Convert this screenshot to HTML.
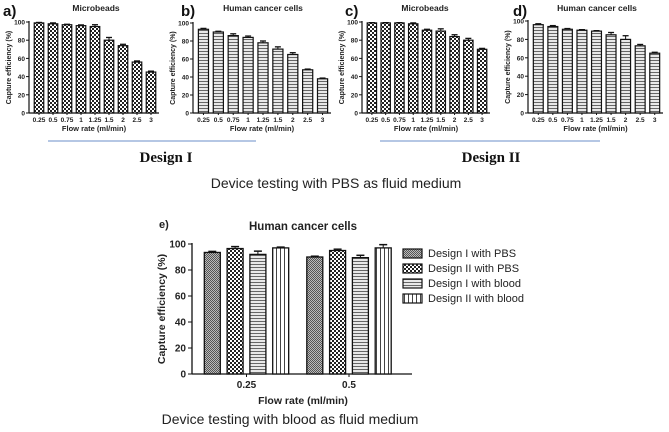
<!DOCTYPE html>
<html><head><meta charset="utf-8"><style>
body{margin:0;background:#fff;}
svg{display:block;font-family:"Liberation Sans",Arial,sans-serif;}
</style></head><body>
<svg id="s" width="669" height="432" viewBox="0 0 669 432">
<defs>
<pattern id="chk" width="4" height="4" patternUnits="userSpaceOnUse"><rect width="4" height="4" fill="#fff"/><rect width="2" height="2" fill="#222"/><rect x="2" y="2" width="2" height="2" fill="#222"/></pattern>
<pattern id="hl" width="4" height="3" patternUnits="userSpaceOnUse"><rect width="4" height="3" fill="#e8e8e8"/><rect y="0" width="4" height="1" fill="#666"/></pattern>
<pattern id="vl" width="4" height="4" patternUnits="userSpaceOnUse"><rect width="4" height="4" fill="#fff"/><rect width="1" height="4" fill="#444"/></pattern>
<pattern id="gr" width="2" height="2" patternUnits="userSpaceOnUse"><rect width="2" height="2" fill="#bbb"/><rect width="1" height="1" fill="#555"/><rect x="1" y="1" width="1" height="1" fill="#555"/></pattern>
</defs>
</svg>
<script>
const flowCats=["0.25","0.5","0.75","1","1.25","1.5","2","2.5","3"];
const aVals=[99,98,97,96,95,80,74,56,45];
const aErr=[0.5,1,0.5,0.8,2,3,1.5,1.2,1];
const bVals=[93,90,86,84,78,71,65,48,38];
const bErr=[1,0.8,2,1.5,2,2.5,2,0.8,0.8];
const cVals=[99,99,99,98,91,90,84,80,70];
const cErr=[0.3,0.3,0.3,1,1,2.5,2,2,1];
const dVals=[96,94,91,90,89,85,80,73,65];
const dErr=[1,1,0.8,0.6,0.5,2.5,4,1.5,1];
const yTicks=[0,20,40,60,80,100];
const eCats=["0.25","0.5"];
const eSeries=["Design I with PBS","Design II with PBS","Design I with blood","Design II with blood"];
const eVals=[[93.5,90],[96.5,95],[92,89.5],[97,97]];
const eErr=[[0.8,0.6],[1.5,1],[2.5,1.8],[0.6,2.5]];

const NS="http://www.w3.org/2000/svg";
const svg=document.getElementById('s');
function mk(tag,attrs,parent){const e=document.createElementNS(NS,tag);for(const k in attrs)e.setAttribute(k,attrs[k]);(parent||svg).appendChild(e);return e;}
function txt(x,y,s,opt,parent){const t=mk('text',Object.assign({x:x,y:y,'font-size':7,'text-anchor':'middle','font-weight':'bold',fill:'#222'},opt||{}),parent);t.textContent=s;return t;}

function small(p){
  const g=mk('g',{});
  
  
  const y=v=>p.y0+(p.y100-p.y0)*v/100;
  const n=flowCats.length;
  const step=(p.xEnd-p.ax-4)/n;
  const bx=i=>p.ax+3+step*(i+0.5);
  // axes
  mk('line',{x1:p.ax,y1:p.y100-1,x2:p.ax,y2:p.y0,stroke:'#111','stroke-width':1.2},g);
  mk('line',{x1:p.ax,y1:p.y0,x2:p.xEnd,y2:p.y0,stroke:'#111','stroke-width':1.2},g);
  yTicks.forEach(t=>{mk('line',{x1:p.ax-3,y1:y(t),x2:p.ax,y2:y(t),stroke:'#111'},g);
    const l=txt(p.ax-4,y(t)+2.5,String(t),{'text-anchor':'end','font-size':6.5},g);
    });
  const bw=step*0.68;
  p.vals.forEach((v,i)=>{
    const b=mk('rect',{x:bx(i)-bw/2,y:y(v),width:bw,height:p.y0-y(v),fill:p.fill,stroke:'#111','stroke-width':1.2},g);
    
    
    const e=p.err[i];
    mk('line',{x1:bx(i),y1:y(v),x2:bx(i),y2:y(v+e),stroke:'#111'},g);
    mk('line',{x1:bx(i)-3,y1:y(v+e),x2:bx(i)+3,y2:y(v+e),stroke:'#111','stroke-width':1.3},g);
    mk('line',{x1:bx(i),y1:p.y0,x2:bx(i),y2:p.y0+2,stroke:'#111'},g);
    const l=txt(bx(i),p.y0+9,flowCats[i],{'font-size':6.5},g);
    
  });
  const xt=txt((p.ax+p.xEnd)/2,p.y0+18,"Flow rate (ml/min)",{'font-size':7.5},g);
  
  const yt=txt(0,0,"Capture efficiency (%)",{'font-size':7,transform:`translate(${p.ax-18},${(p.y0+p.y100)/2}) rotate(-90)`},g);
  
  const tt=txt(p.titleX,11,p.title,{'font-size':8.5},g);
  
  const lb=txt(p.labX,16,p.lab,{'font-size':15,'text-anchor':'start',fill:'#111'},g);
  
}
small({name:'panel-a',ax:29,xEnd:159,y0:113,y100:22,vals:aVals,err:aErr,fill:'url(#chk)',title:'Microbeads',titleX:96,lab:'a)',labX:3});
small({name:'panel-b',ax:193,xEnd:331,y0:113,y100:23,vals:bVals,err:bErr,fill:'url(#hl)',title:'Human cancer cells',titleX:263,lab:'b)',labX:181});
small({name:'panel-c',ax:362,xEnd:490,y0:113,y100:22,vals:cVals,err:cErr,fill:'url(#chk)',title:'Microbeads',titleX:425,lab:'c)',labX:345});
small({name:'panel-d',ax:528,xEnd:663,y0:113,y100:21,vals:dVals,err:dErr,fill:'url(#hl)',title:'Human cancer cells',titleX:597,lab:'d)',labX:513});

// design lines and labels
let l1=mk('line',{x1:48,y1:141,x2:256,y2:141,stroke:'#6b8fc8','stroke-width':1});

let l2=mk('line',{x1:380,y1:141,x2:600,y2:141,stroke:'#6b8fc8','stroke-width':1});

let d1=txt(166,162,"Design I",{'font-family':'"Liberation Serif",serif','font-size':15,fill:'#111'});

let d2=txt(491,162,"Design II",{'font-family':'"Liberation Serif",serif','font-size':15,fill:'#111'});

let c1=txt(336,188,"Device testing with PBS as fluid medium",{'font-size':14,'font-weight':'normal',fill:'#222'});


// panel e
(function(){
  const g=mk('g',{});
  
  
  const ax=192,xEnd=412,y0=374,y100=244;
  const y=v=>y0+(y100-y0)*v/100;
  const fills=['url(#gr)','url(#chk)','url(#hl)','url(#vl)'];
  mk('line',{x1:ax,y1:y100-1,x2:ax,y2:y0,stroke:'#111','stroke-width':1.3},g);
  mk('line',{x1:ax,y1:y0,x2:xEnd,y2:y0,stroke:'#111','stroke-width':1.3},g);
  yTicks.forEach(t=>{mk('line',{x1:ax-4,y1:y(t),x2:ax,y2:y(t),stroke:'#111'},g);
    const l=txt(ax-6,y(t)+3.5,String(t),{'text-anchor':'end','font-size':10},g);
    });
  const gw=(xEnd-ax)/eCats.length;
  const bw=16,gap=22.8;
  eCats.forEach((c,gi)=>{
    const cx=ax+gw*(gi+0.5)+(gi==0?-0.5:-8);
    eSeries.forEach((s,si)=>{
      const x=cx+(si-1.5)*gap, v=eVals[si][gi], e=eErr[si][gi];
      const b=mk('rect',{x:x-bw/2,y:y(v),width:bw,height:y0-y(v),fill:fills[si],stroke:'#111','stroke-width':1.3},g);
      
      
      mk('line',{x1:x,y1:y(v),x2:x,y2:y(v+e),stroke:'#111'},g);
      mk('line',{x1:x-4,y1:y(v+e),x2:x+4,y2:y(v+e),stroke:'#111','stroke-width':1.5},g);
    });
    mk('line',{x1:cx,y1:y0,x2:cx,y2:y0+3,stroke:'#111'},g);
    const l=txt(cx,y0+14,c,{'font-size':10},g);
    
  });
  const xt=txt(303,404,"Flow rate (ml/min)",{'font-size':10.5},g);
  
  const yt=txt(0,0,"Capture efficiency (%)",{'font-size':10.5,transform:`translate(165,${(y0+y100)/2}) rotate(-90)`},g);
  
  const tt=txt(303,230,"Human cancer cells",{'font-size':11.5},g);
  
  const lb=txt(159,228,"e)",{'font-size':11,'text-anchor':'start'},g);
  
  eSeries.forEach((s,si)=>{
    const ly=253+si*15;
    const r=mk('rect',{x:403,y:ly-4,width:19,height:9,fill:fills[si],stroke:'#111','stroke-width':1.2},g);
    
    const t=txt(428,ly+4,s,{'font-size':11,'text-anchor':'start','font-weight':'normal'},g);
    
  });
})();
let c2=txt(290,424,"Device testing with blood as fluid medium",{'font-size':14,'font-weight':'normal',fill:'#222'});

</script>
</body></html>
